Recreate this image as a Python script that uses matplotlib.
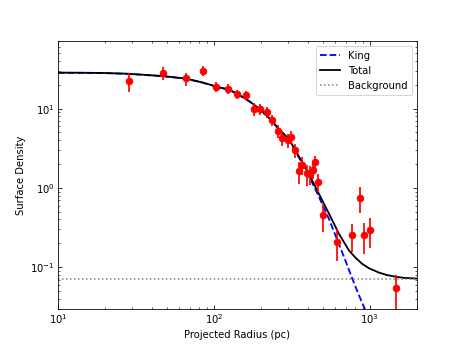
import numpy as np
from matplotlib import pyplot as plt

radius = [28.4, 47.5, 66.4, 85.3, 103.7, 122.5, 141.4, 160.8, 179.8, 198.5,
          217.8, 235.9, 256.9, 275.7, 296.9, 313.6, 332.5, 352.6, 365.6, 393.8,
          414.9, 433.6, 446.7, 466.7, 504.7, 620.4, 773.9, 863.0, 923.6, 1000.0,
          1466.0]
density = [22.2, 28.2, 23.9, 29.9, 18.8, 17.8, 15.2, 14.6, 9.8, 9.9,
           9.0, 7.2, 5.2, 4.25, 4.0, 4.4, 3.0, 1.62, 1.95, 1.52,
           1.50, 1.69, 2.10, 1.19, 0.455, 0.21, 0.255, 0.757, 0.255, 0.295,
           0.055]
density_err = [6.0, 5.5, 4.5, 4.5, 2.7, 2.5, 2.0, 1.8, 1.8, 1.5,
               1.4, 1.2, 1.0, 0.9, 0.8, 0.8, 0.6, 0.5, 0.5, 0.45,
               0.4, 0.4, 0.45, 0.3, 0.18, 0.09, 0.1, 0.28, 0.11, 0.12,
               0.025]

# model curves
model_r = [10, 15, 20, 28.4, 47.5, 66.4, 85.3, 103.7, 125.6, 150, 168.7, 200,
           226.5, 265, 304, 363, 408, 473, 549, 635, 736, 813, 897, 991,
           1146, 1290, 1466, 1656, 2000]
total = [28.3, 28.2, 28.0, 27.4, 25.6, 23.8, 21.2, 18.9, 17.3, 14.3, 12.4, 9.6,
         7.6, 5.4, 4.1, 2.22, 1.49, 0.836, 0.469, 0.263, 0.163, 0.131, 0.110,
         0.0969, 0.0858, 0.0798, 0.0760, 0.0736, 0.0721]
king_r = [10, 15, 20, 28.4, 47.5, 66.4, 85.3, 103.7, 125.6, 150, 168.7, 200,
          226.5, 265, 304, 363, 408, 473, 549, 635, 700, 774, 850, 920, 1000]
king = [28.2, 28.1, 27.9, 27.3, 25.5, 23.7, 21.1, 18.8, 17.2, 14.2, 12.3, 9.5,
        7.5, 5.3, 4.0, 2.15, 1.42, 0.765, 0.40, 0.195, 0.12, 0.0714, 0.045,
        0.0314, 0.021]
background = 0.0713

fig = plt.figure(figsize=(6.4, 4.8), dpi=463/6.4)
ax = fig.add_subplot(111)

ax.plot(king_r, king, '--', color='blue', linewidth=1.8, label='King')
ax.plot(model_r, total, '-', color='black', linewidth=1.8, label='Total')
ax.axhline(background, linestyle=':', color='gray', linewidth=1.5,
           label='Background')
ax.errorbar(radius, density, yerr=density_err, fmt='o', color='red',
            markersize=6.5, elinewidth=1.7, capsize=0, zorder=3)

ax.set_xscale('log')
ax.set_yscale('log')
ax.set_xlim(10, 2000)
ax.set_ylim(0.03, 70)
ax.set_xlabel('Projected Radius (pc)')
ax.set_ylabel('Surface Density')
ax.tick_params(which='both', direction='in', top=True, right=True)
ax.legend(loc='upper right')

plt.savefig('out.png', dpi=463/6.4)
